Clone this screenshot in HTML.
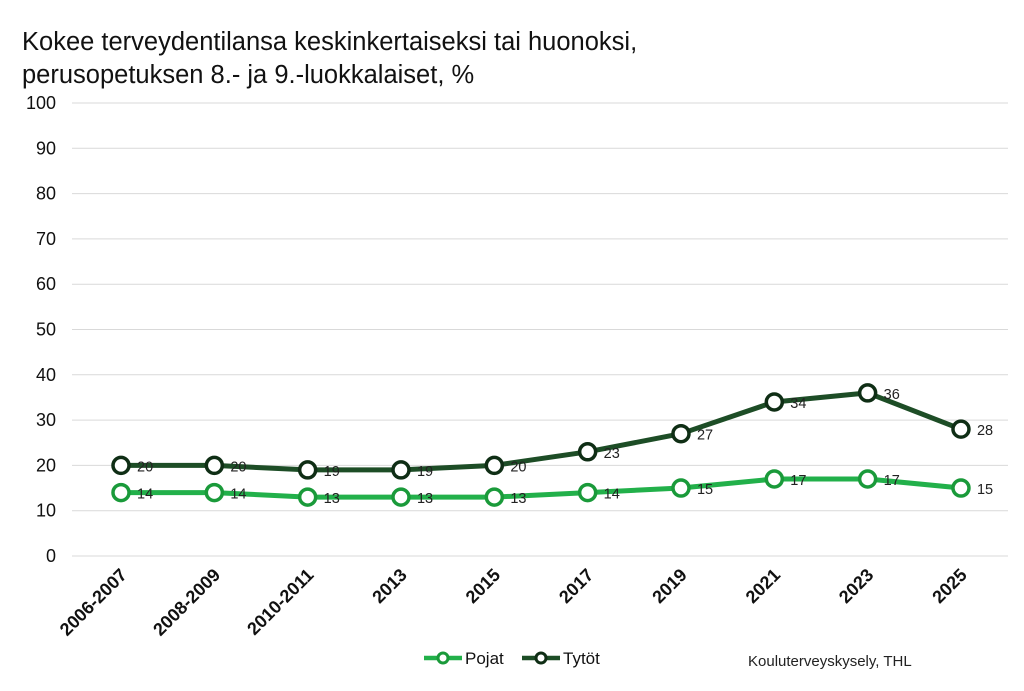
<!DOCTYPE html>
<html><head><meta charset="utf-8"><style>
body{margin:0;background:#fff;width:1024px;height:686px;overflow:hidden;font-family:"Liberation Sans",Arial,sans-serif}
</style></head><body>
<svg id="c" width="1024" height="686" xmlns="http://www.w3.org/2000/svg">
<text x="22" y="50" font-size="25.5" fill="#111">Kokee terveydentilansa keskinkertaiseksi tai huonoksi,</text>
<text x="22" y="83" font-size="25.5" fill="#111">perusopetuksen 8.- ja 9.-luokkalaiset, %</text>
<g id="grid"></g><g id="series"></g>
<g>
<g><line x1="424" x2="462" y1="658" y2="658" stroke="#22b04a" stroke-width="4.5"/><circle cx="443" cy="658" r="5" fill="#fff" stroke="#1a9a3a" stroke-width="3"/><text x="465" y="664" font-size="17" fill="#111">Pojat</text></g>
<g><line x1="522" x2="560" y1="658" y2="658" stroke="#1d4d26" stroke-width="4.5"/><circle cx="541" cy="658" r="5" fill="#fff" stroke="#0f2e15" stroke-width="3"/><text x="563" y="664" font-size="17" fill="#111">Tytöt</text></g>
</g>
<text x="748" y="666" font-size="15" fill="#222">Kouluterveyskysely, THL</text>
</svg>
<script>
const categories=["2006-2007","2008-2009","2010-2011","2013","2015","2017","2019","2021","2023","2025"];
const pojat=[14,14,13,13,13,14,15,17,17,15];
const tytot=[20,20,19,19,20,23,27,34,36,28];
const yTicks=[0,10,20,30,40,50,60,70,80,90,100];
const NS="http://www.w3.org/2000/svg";
const y=v=>556-v*4.53;
const x=i=>121+i*93.33;
function mk(t,a,p){const e=document.createElementNS(NS,t);for(const k in a)e.setAttribute(k,a[k]);p.appendChild(e);return e;}
const g=document.getElementById('grid');
yTicks.forEach(v=>{
 const l=mk('line',{x1:72,x2:1008,y1:y(v),y2:y(v),stroke:'#d9d9d9','stroke-width':1},g);
 
 
 const t=mk('text',{x:56,y:y(v)+6,'text-anchor':'end','font-size':18,fill:'#111'},g);
 t.textContent=v;
 
 
});
categories.forEach((c,i)=>{
 const t=mk('text',{x:x(i)+7,y:576,'text-anchor':'end','font-size':18,'font-weight':'bold',fill:'#111',transform:`rotate(-45 ${x(i)+7} 576)`},g);
 t.textContent=c;
 
 
});
const s=document.getElementById('series');
function draw(data,line,outline,name){
 const pl=mk('polyline',{points:data.map((v,i)=>x(i)+','+y(v)).join(' '),fill:'none',stroke:line,'stroke-width':5,'stroke-linejoin':'round'},s);
 
 
 data.forEach((v,i)=>{
  const c=mk('circle',{cx:x(i),cy:y(v),r:8,fill:'#fff',stroke:outline,'stroke-width':3.5},s);
  
  
  const t=mk('text',{x:x(i)+16,y:y(v)+6,'font-size':14.5,fill:'#222'},s);
  t.textContent=v;
  
  
 });
}
draw(pojat,'#22b04a','#1a9a3a','pojat');
draw(tytot,'#1d4d26','#0f2e15','tytot');
</script>
</body></html>
